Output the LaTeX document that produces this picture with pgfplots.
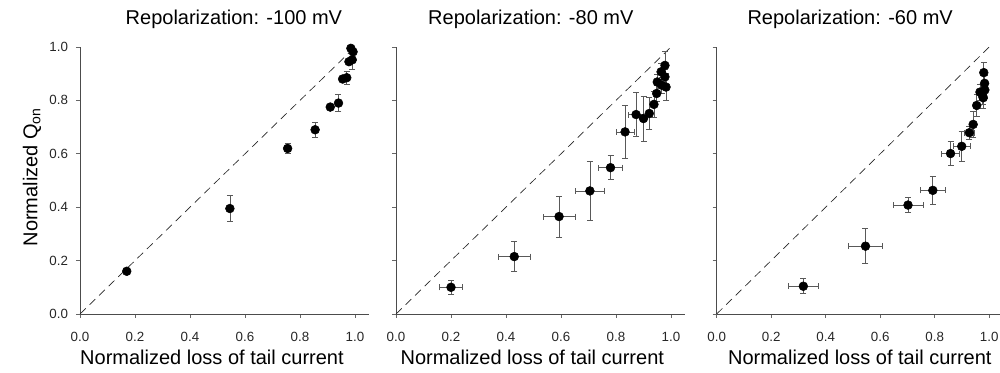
\documentclass[border=0pt]{standalone}
\usepackage{pgfplots}
\pgfplotsset{compat=1.18}
\usepackage{pgfplotstable}
\usepackage{fontspec}
\setmainfont{Liberation Sans}

\pgfplotstableread{
x y ex ey
0.17 0.16 0 0
0.545 0.395 0 0.048
0.755 0.62 0 0.019
0.855 0.69 0 0.029
0.91 0.775 0 0
0.94 0.79 0 0.032
0.955 0.88 0 0
0.97 0.885 0 0.024
0.978 0.945 0 0
0.99 0.952 0 0.035
0.985 0.995 0 0
0.993 0.982 0 0
}\dataA

\pgfplotstableread{
x y ex ey
0.2 0.10 0.041 0.026
0.43 0.215 0.058 0.057
0.593 0.365 0.059 0.077
0.705 0.461 0.053 0.11
0.78 0.548 0.044 0.045
0.833 0.682 0.032 0.10
0.873 0.747 0.027 0.082
0.90 0.732 0 0.085
0.921 0.751 0 0.06
0.938 0.785 0 0.05
0.948 0.826 0 0.03
0.95 0.869 0 0.03
0.966 0.857 0 0.03
0.964 0.907 0 0.03
0.978 0.931 0 0.054
0.978 0.888 0 0.03
0.982 0.85 0 0.05
}\dataB

\pgfplotstableread{
x y ex ey
0.318 0.104 0.054 0.028
0.546 0.254 0.062 0.066
0.702 0.408 0.055 0.028
0.793 0.463 0.046 0.053
0.858 0.601 0.034 0.046
0.899 0.628 0.03 0.057
0.927 0.679 0.02 0.025
0.941 0.71 0 0.05
0.954 0.781 0 0.04
0.966 0.831 0 0.03
0.976 0.816 0 0.03
0.98 0.904 0 0.037
0.983 0.864 0 0.03
0.984 0.839 0 0.03
0.978 0.81 0 0.04
}\dataC

\pgfplotsset{
  panel/.style={
    scale only axis,
    height=200.25pt,
    xmin=0, ymin=0, ymax=1,
    enlargelimits=false,
    clip=false,
    axis lines=left,
    axis line style={-, draw=black!70, line width=0.6pt},
    tick style={draw=black!60, line width=0.5pt},
    tick align=outside,
    major tick length=3pt,
    xtick={0,0.2,0.4,0.6,0.8,1.0},
    ytick={0,0.2,0.4,0.6,0.8,1.0},
    /pgf/number format/assume math mode=true,
    /pgf/number format/fixed,
    /pgf/number format/fixed zerofill,
    /pgf/number format/precision=1,
    ticklabel style={font=\fontsize{10}{12}\selectfont, text=black!85},
    xticklabel style={yshift=-7pt},
    yticklabel style={xshift=-2.5pt},
    title style={font=\fontsize{15}{18}\selectfont, anchor=base, yshift=10.5pt},
    xlabel style={font=\fontsize{15}{18}\selectfont, anchor=base, yshift=-38.25pt},
    xlabel={Normalized loss of tail current},
  },
  ebars/.style={
    only marks, mark=*, mark size=0.2pt, mark options={draw=none, fill=none},
    error bars/.cd,
      x dir=both, x explicit,
      y dir=both, y explicit,
      error mark=-,
      error bar style={draw=black!65, line width=0.5pt},
      error mark options={draw=black!65, line width=0.5pt, mark size=2.25pt, rotate=90},
  },
  dots/.style={only marks, mark=*, mark size=3.3pt, mark options={fill=black, draw=black}},
  diag/.style={black!85, line width=0.5pt, dash pattern=on 6pt off 4pt},
}

\begin{document}
\begin{tikzpicture}
\useasboundingbox (0,0) rectangle (750pt,279.75pt);

% Panel 1
\begin{axis}[panel, at={(60pt,44.25pt)}, anchor=south west,
  width=216.56pt, xmax=1.05,
  title={Repolarization: -100 mV},
  title style={at={(axis description cs:0.533,1)}},
  xlabel style={at={(axis description cs:0.457,0)}},
  ylabel={Normalized Q\textsubscript{on}},
  ylabel style={font=\fontsize{15}{18}\selectfont, at={(axis description cs:-0.166,0.513)}, anchor=center},
]
\addplot[diag] coordinates {(0,0) (1,1)};
\addplot[ebars] table[x=x, y=y, x error=ex, y error=ey] {\dataA};
\addplot[dots] table[x=x, y=y] {\dataA};
\end{axis}

% Panel 2
\begin{axis}[panel, at={(297pt,44.25pt)}, anchor=south west,
  width=216.56pt, xmax=1.05,
  yticklabels={},
  title={Repolarization: -80 mV},
  title style={at={(axis description cs:0.467,1)}},
  xlabel style={at={(axis description cs:0.472,0)}},
]
\addplot[diag] coordinates {(0,0) (1,1)};
\addplot[ebars] table[x=x, y=y, x error=ex, y error=ey] {\dataB};
\addplot[dots] table[x=x, y=y] {\dataB};
\end{axis}

% Panel 3
\begin{axis}[panel, at={(537.5pt,44.25pt)}, anchor=south west,
  width=212.6pt, xmax=1.04,
  yticklabels={},
  title={Repolarization: -60 mV},
  title style={at={(axis description cs:0.471,1)}},
  xlabel style={at={(axis description cs:0.505,0)}},
]
\addplot[diag] coordinates {(0,0) (1,1)};
\addplot[ebars] table[x=x, y=y, x error=ex, y error=ey] {\dataC};
\addplot[dots] table[x=x, y=y] {\dataC};
\end{axis}
\end{tikzpicture}
\end{document}
